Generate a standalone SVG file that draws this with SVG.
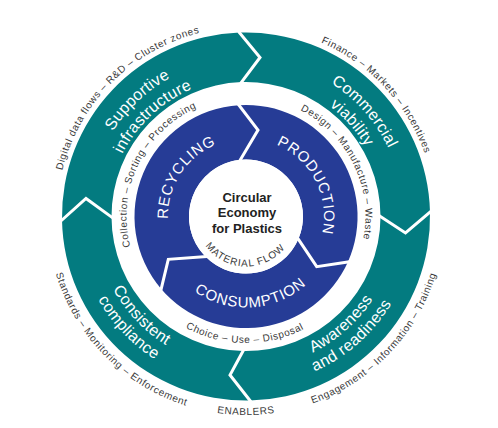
<svg xmlns="http://www.w3.org/2000/svg" xmlns:xlink="http://www.w3.org/1999/xlink" width="498" height="428" viewBox="0 0 498 428">
<style>
.teal{fill:#037b80}
.blue{fill:#263c96}
.div{fill:none;stroke:#fff;stroke-width:3;stroke-linecap:square;stroke-linejoin:miter}
text{font-family:"Liberation Sans",Arial,sans-serif}
.big{fill:#fff;font-size:16px;letter-spacing:0.3px}
.ring{fill:#fff;font-size:15px;letter-spacing:0.8px}
.small{fill:#3a3a3a;font-size:10px;letter-spacing:0.6px}
.center{fill:#222;font-size:13px;font-weight:bold;text-anchor:middle}
</style>
<defs>
<path id="t78" d="M172.70,189.82 A78,78 0 0,1 319.30,189.82"/>
<path id="t119" d="M133.71,175.63 A119.5,119.5 0 0,1 358.29,175.63"/>
<path id="t189" d="M67.93,151.69 A189.5,189.5 0 0,1 424.07,151.69"/>
<path id="t158" d="M97.53,162.46 A158,158 0 0,1 394.47,162.46"/>
<path id="t138" d="M115.85,169.13 A138.5,138.5 0 0,1 376.15,169.13"/>
<path id="b91" d="M160.49,247.62 A91,91 0 0,0 331.51,247.62"/>
<path id="b126" d="M127.13,259.76 A126.5,126.5 0 0,0 364.87,259.76"/>
<path id="b198" d="M59.47,284.39 A198.5,198.5 0 0,0 432.53,284.39"/>
<path id="b151" d="M103.64,268.31 A151.5,151.5 0 0,0 388.36,268.31"/>
<path id="b169" d="M86.72,274.47 A169.5,169.5 0 0,0 405.28,274.47"/>
<path id="b50" d="M199.01,233.6 A50,50 0 0,0 292.99,233.6"/>
</defs>

<g id="supportive-infrastructure">
<path class="teal" d="M62,220 A184,184 0 0,1 239.5,32.6 L260,57.5 L241.5,82.1 A134.5,134.5 0 0,0 111.5,217 L86,198.5 Z"/>
<text class="big" transform="rotate(-43 246 216.5)"><textPath xlink:href="#t158" href="#t158" startOffset="50%" text-anchor="middle">Supportive</textPath></text>
<text class="big" transform="rotate(-43 246 216.5)"><textPath xlink:href="#t138" href="#t138" startOffset="50%" text-anchor="middle">infrastructure</textPath></text>
<text class="small" transform="rotate(-45 246 216.5)"><textPath xlink:href="#t189" href="#t189" startOffset="50%" text-anchor="middle">Digital data flows – R&amp;D – Cluster zones</textPath></text>
</g>
<g id="commercial-viability">
<path class="teal" d="M239.5,32.6 A184,184 0 0,1 430,212 L405.5,233 L380.5,216.5 A134.5,134.5 0 0,0 241.5,82.1 L260,57.5 Z"/>
<text class="big" transform="rotate(48.5 246 216.5)"><textPath xlink:href="#t158" href="#t158" startOffset="50%" text-anchor="middle">Commercial</textPath></text>
<text class="big" transform="rotate(48.5 246 216.5)"><textPath xlink:href="#t138" href="#t138" startOffset="50%" text-anchor="middle">viability</textPath></text>
<text class="small" transform="rotate(47 246 216.5)"><textPath xlink:href="#t189" href="#t189" startOffset="50%" text-anchor="middle">Finance – Markets – Incentives</textPath></text>
</g>
<g id="awareness-readiness">
<path class="teal" d="M430,212 A184,184 0 0,1 250,400.5 L230,375 L243,351 A134.5,134.5 0 0,0 380.5,216.5 L405.5,233 Z"/>
<text class="big" transform="rotate(-41.5 246 216.5)"><textPath xlink:href="#b151" href="#b151" startOffset="50%" text-anchor="middle">Awareness</textPath></text>
<text class="big" transform="rotate(-41.5 246 216.5)"><textPath xlink:href="#b169" href="#b169" startOffset="50%" text-anchor="middle">and readiness</textPath></text>
<text class="small" transform="rotate(-46.4 246 216.5)"><textPath xlink:href="#b198" href="#b198" startOffset="50%" text-anchor="middle">Engagement – Information – Training</textPath></text>
</g>
<g id="consistent-compliance">
<path class="teal" d="M250,400.5 A184,184 0 0,1 62,220 L86,198.5 L111.5,217 A134.5,134.5 0 0,0 243,351 L230,375 Z"/>
<text class="big" transform="rotate(46.6 246 216.5)"><textPath xlink:href="#b151" href="#b151" startOffset="50%" text-anchor="middle">Consistent</textPath></text>
<text class="big" transform="rotate(46.6 246 216.5)"><textPath xlink:href="#b169" href="#b169" startOffset="50%" text-anchor="middle">compliance</textPath></text>
<text class="small" transform="rotate(45.4 246 216.5)"><textPath xlink:href="#b198" href="#b198" startOffset="50%" text-anchor="middle">Standards – Monitoring – Enforcement</textPath></text>
</g>

<g id="recycling">
<path class="blue" d="M161.2,288.9 A111.5,111.5 0 0,1 239.0,105.2 L258,130 L240.4,159.8 A57,57 0 0,0 205.4,256.6 L168.3,259.3 Z"/>
<text class="ring" transform="rotate(-57 246 216.5)"><textPath xlink:href="#t78" href="#t78" startOffset="50%" text-anchor="middle">RECYCLING</textPath></text>
<text class="small" transform="rotate(-64.5 246 216.5)"><textPath xlink:href="#t119" href="#t119" startOffset="50%" text-anchor="middle">Collection – Sorting – Processing</textPath></text>
</g>
<g id="production">
<path class="blue" d="M239.0,105.2 A111.5,111.5 0 0,1 347.9,261.9 L316.7,266.7 L298.3,239.2 A57,57 0 0,0 240.4,159.8 L258,130 Z"/>
<text class="ring" transform="rotate(63 246 216.5)"><textPath xlink:href="#t78" href="#t78" startOffset="50%" text-anchor="middle">PRODUCTION</textPath></text>
<text class="small" transform="rotate(64 246 216.5)"><textPath xlink:href="#t119" href="#t119" startOffset="50%" text-anchor="middle">Design – Manufacture – Waste</textPath></text>
</g>
<g id="consumption">
<path class="blue" d="M347.9,261.9 A111.5,111.5 0 0,1 161.2,288.9 L168.3,259.3 L205.4,256.6 A57,57 0 0,0 298.3,239.2 L316.7,266.7 Z"/>
<text class="ring" transform="rotate(-3.5 246 216.5)"><textPath xlink:href="#b91" href="#b91" startOffset="50%" text-anchor="middle">CONSUMPTION</textPath></text>
<text class="small" transform="rotate(0.5 246 216.5)"><textPath xlink:href="#b126" href="#b126" startOffset="50%" text-anchor="middle">Choice – Use – Disposal</textPath></text>
</g>

<g id="connectors">
<polyline class="div" points="239.5,32.6 260,57.5 241.5,82.1"/>
<polyline class="div" points="430,212 405.5,233 380.5,216.5"/>
<polyline class="div" points="250,400.5 230,375 243,351"/>
<polyline class="div" points="62,220 86,198.5 111.5,217"/>
<polyline class="div" points="239.0,105.2 258,130 240.4,159.8"/>
<polyline class="div" points="347.9,261.9 316.7,266.7 298.3,239.2"/>
<polyline class="div" points="161.2,288.9 168.3,259.3 205.4,256.6"/>
</g>

<g id="center">
<circle cx="246" cy="216.5" r="57" fill="#fff"/>
<text class="center" x="247" y="201.5">Circular</text>
<text class="center" x="247" y="217">Economy</text>
<text class="center" x="247" y="232.5">for Plastics</text>
<text class="small" style="letter-spacing:0.9px" transform="rotate(1.4 246 216.5)"><textPath xlink:href="#b50" href="#b50" startOffset="50%" text-anchor="middle">MATERIAL FLOW</textPath></text>
</g>

<g id="enablers">
<text class="small" transform="rotate(0 246 216.5)"><textPath xlink:href="#b198" href="#b198" startOffset="50%" text-anchor="middle">ENABLERS</textPath></text>
</g>
</svg>
